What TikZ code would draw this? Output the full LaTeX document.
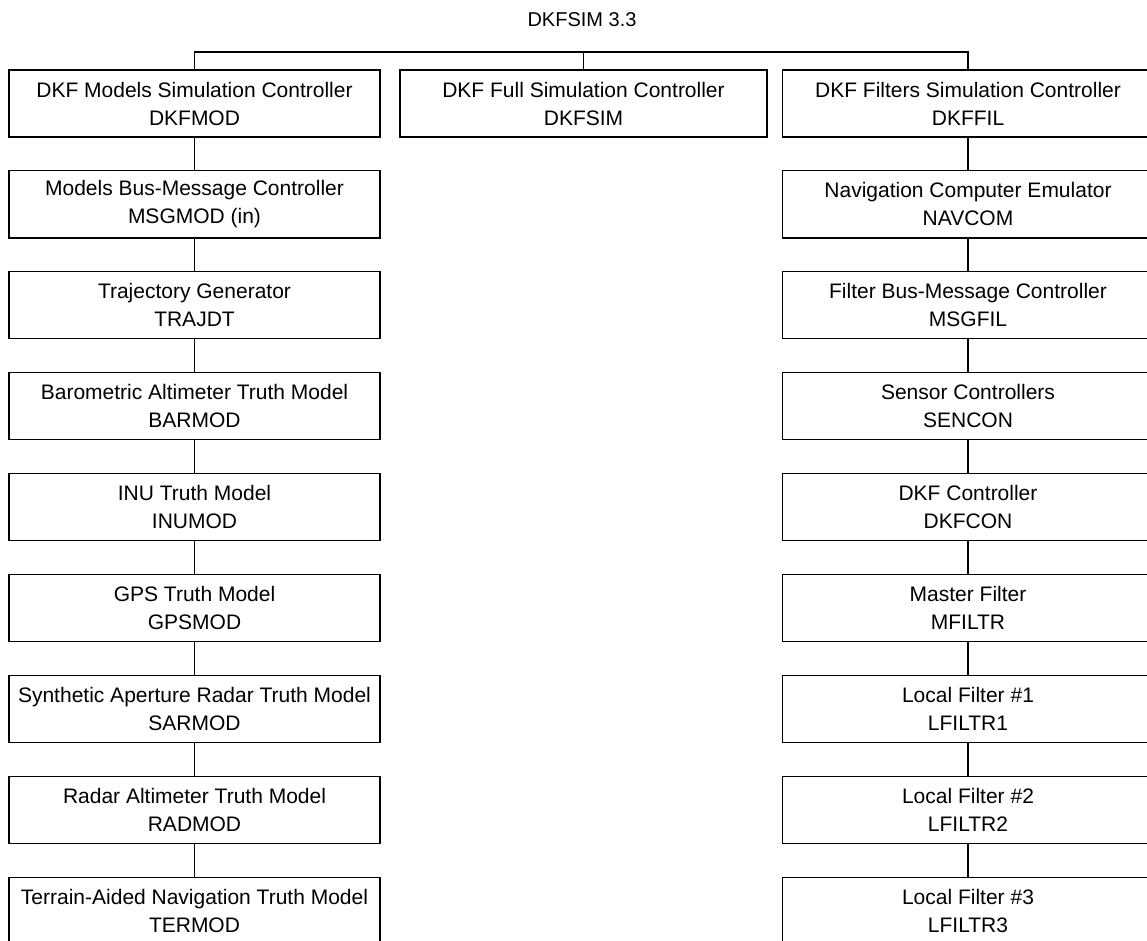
\documentclass[tikz,border=0pt]{standalone}
\usepackage{fontspec}
\setmainfont{Liberation Sans}
\begin{document}
\begin{tikzpicture}[x=1pt,y=-1pt,
  unit/.style={draw, line width=1.2pt, rectangle, inner sep=0pt,
    minimum height=67pt, align=center,
    font=\fontsize{21}{28}\selectfont},
  sidebox/.style={unit, minimum width=371pt},
  midbox/.style={unit, minimum width=367pt},
  link/.style={line width=1.2pt}]
\useasboundingbox (0,0) rectangle (1147,941);

\node[font=\fontsize{20}{24}\selectfont] (title) at (582,20) {DKFSIM 3.3};

% column centres and row pitch
\def\colL{194.5}\def\colM{583.5}\def\colR{968}
\def\rowy#1{70+33.5+100.9*#1}

% left column: model side
\node[sidebox] (l1) at (\colL,{\rowy{0}}) {DKF Models Simulation Controller\\DKFMOD};
\node[sidebox] (l2) at (\colL,{\rowy{1}}) {Models Bus-Message Controller\\MSGMOD (in)};
\node[sidebox] (l3) at (\colL,{\rowy{2}}) {Trajectory Generator\\TRAJDT};
\node[sidebox] (l4) at (\colL,{\rowy{3}}) {Barometric Altimeter Truth Model\\BARMOD};
\node[sidebox] (l5) at (\colL,{\rowy{4}}) {INU Truth Model\\INUMOD};
\node[sidebox] (l6) at (\colL,{\rowy{5}}) {GPS Truth Model\\GPSMOD};
\node[sidebox] (l7) at (\colL,{\rowy{6}}) {Synthetic Aperture Radar Truth Model\\SARMOD};
\node[sidebox] (l8) at (\colL,{\rowy{7}}) {Radar Altimeter Truth Model\\RADMOD};
\node[sidebox] (l9) at (\colL,{\rowy{8}}) {Terrain-Aided Navigation Truth Model\\TERMOD};

% middle column
\node[midbox] (m1) at (\colM,{\rowy{0}}) {DKF Full Simulation Controller\\DKFSIM};

% right column: filter side
\node[sidebox] (r1) at (\colR,{\rowy{0}}) {DKF Filters Simulation Controller\\DKFFIL};
\node[sidebox] (r2) at (\colR,{\rowy{1}}) {Navigation Computer Emulator\\NAVCOM};
\node[sidebox] (r3) at (\colR,{\rowy{2}}) {Filter Bus-Message Controller\\MSGFIL};
\node[sidebox] (r4) at (\colR,{\rowy{3}}) {Sensor Controllers\\SENCON};
\node[sidebox] (r5) at (\colR,{\rowy{4}}) {DKF Controller\\DKFCON};
\node[sidebox] (r6) at (\colR,{\rowy{5}}) {Master Filter\\MFILTR};
\node[sidebox] (r7) at (\colR,{\rowy{6}}) {Local Filter \#1\\LFILTR1};
\node[sidebox] (r8) at (\colR,{\rowy{7}}) {Local Filter \#2\\LFILTR2};
\node[sidebox] (r9) at (\colR,{\rowy{8}}) {Local Filter \#3\\LFILTR3};

% top bus joining the three controllers
\coordinate (busL) at (l1.north |- 0,52);
\coordinate (busR) at (r1.north |- 0,52);
\draw[link] (l1.north) -- (busL) -- (busR) -- (r1.north);
\draw[link] (m1.north) -- (m1.north |- busL);

% vertical chains
\foreach \a/\b in {1/2,2/3,3/4,4/5,5/6,6/7,7/8,8/9}{
  \draw[link] (l\a.south) -- (l\b.north);
  \draw[link] (r\a.south) -- (r\b.north);
}
\end{tikzpicture}
\end{document}
